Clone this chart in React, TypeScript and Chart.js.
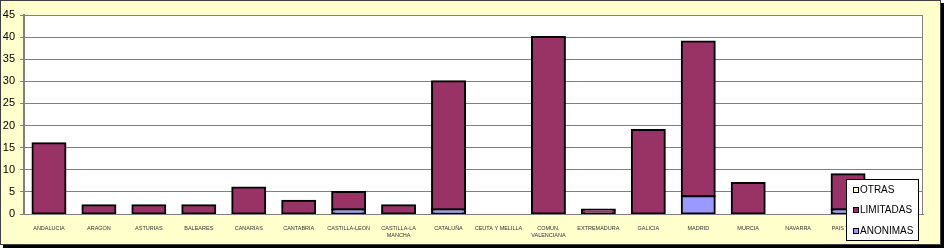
import React, { useEffect, useRef } from "react";
import { Chart, registerables } from "chart.js";

Chart.register(...registerables);

const categories: (string | string[])[] = [
  "ANDALUCIA",
  "ARAGON",
  "ASTURIAS",
  "BALEARES",
  "CANARIAS",
  "CANTABRIA",
  "CASTILLA-LEON",
  ["CASTILLA-LA", "MANCHA"],
  "CATALUÑA",
  "CEUTA Y MELILLA",
  ["COMUN.", "VALENCIANA"],
  "EXTREMADURA",
  "GALICIA",
  "MADRID",
  "MURCIA",
  "NAVARRA",
  "PAIS VASCO",
  "RIOJA",
];

const anonimas = [0, 0, 0, 0, 0, 0, 1, 0, 1, 0, 0, 0, 0, 4, 0, 0, 1, 0];
const limitadas = [16, 2, 2, 2, 6, 3, 4, 2, 29, 0, 40, 1, 19, 35, 7, 0, 8, 0];
const otras = [0, 0, 0, 0, 0, 0, 0, 0, 0, 0, 0, 0, 0, 0, 0, 0, 0, 0];

const yTicks = [0, 5, 10, 15, 20, 25, 30, 35, 40, 45];

const FONT = "Arial, 'Liberation Sans', sans-serif";

const plotBgPlugin = {
  id: "plotBg",
  beforeDraw(chart: any) {
    const { ctx, chartArea } = chart;
    ctx.save();
    ctx.fillStyle = "#ffffff";
    ctx.fillRect(chartArea.left, chartArea.top, chartArea.right - chartArea.left, chartArea.bottom - chartArea.top);
    ctx.restore();
  },
  afterDatasetsDraw(chart: any) {
    const { ctx, chartArea } = chart;
    ctx.save();
    ctx.strokeStyle = "#808080";
    ctx.lineWidth = 1;
    ctx.beginPath();
    ctx.moveTo(Math.round(chartArea.right) - 0.5, chartArea.top);
    ctx.lineTo(Math.round(chartArea.right) - 0.5, chartArea.bottom);
    ctx.stroke();
    ctx.restore();
  },
};

const legendPlugin = {
  id: "boxLegend",
  afterDraw(chart: any) {
    const { ctx } = chart;
    const x = 846.5;
    const y = 179.5;
    const w = 72;
    const h = 61;
    ctx.save();
    ctx.fillStyle = "#ffffff";
    ctx.fillRect(x, y, w, h);
    ctx.strokeStyle = "#000000";
    ctx.lineWidth = 1;
    ctx.strokeRect(x, y, w, h);
    const items = [...chart.data.datasets].reverse();
    ctx.font = `10px ${FONT}`;
    ctx.textBaseline = "middle";
    ctx.textAlign = "left";
    items.forEach((ds: any, i: number) => {
      const cy = 189.5 + i * 20.5;
      ctx.fillStyle = ds.backgroundColor;
      ctx.fillRect(853, Math.round(cy) - 3, 6, 6);
      ctx.strokeStyle = "#000";
      ctx.strokeRect(853.5, Math.round(cy) - 2.5, 5, 5);
      ctx.fillStyle = "#000";
      ctx.fillText(ds.label, 860, cy + 0.5);
    });
    ctx.restore();
  },
};

const nz = (arr: number[]) => arr.map((v) => (v === 0 ? null : v));

export default function App() {
  const ref = useRef<HTMLCanvasElement>(null);

  useEffect(() => {
    if (!ref.current) return;
    const chart = new Chart(ref.current, {
      type: "bar",
      data: {
        labels: categories,
        datasets: [
          { label: "ANONIMAS", data: nz(anonimas), backgroundColor: "#9999FF" },
          { label: "LIMITADAS", data: nz(limitadas), backgroundColor: "#993366" },
          { label: "OTRAS", data: nz(otras), backgroundColor: "#FFFFCC" },
        ].map((d) => ({
          ...d,
          borderColor: "#000000",
          borderWidth: 2,
          borderSkipped: false,
          inflateAmount: 1,
          categoryPercentage: 1,
          barPercentage: 0.66,
        })),
      },
      options: {
        responsive: false,
        animation: false,
        devicePixelRatio: 1,
        layout: { padding: { top: 15, right: 21, bottom: 0, left: 0 } },
        plugins: {
          legend: { display: false },
          tooltip: { enabled: false },
        },
        scales: {
          x: {
            stacked: true,
            grid: { display: false },
            border: { display: true, color: "#808080", width: 1 },
            ticks: {
              autoSkip: false,
              maxRotation: 0,
              minRotation: 0,
              padding: 3,
              color: "#333333",
              font: { family: FONT, size: 5.5, lineHeight: 1.3 },
            },
            afterFit(scale: any) {
              scale.height = 34;
            },
          },
          y: {
            stacked: true,
            min: 0,
            max: 45,
            afterBuildTicks(scale: any) {
              scale.ticks = yTicks.map((v) => ({ value: v }));
            },
            grid: {
              color: "#808080",
              lineWidth: 1,
              drawTicks: true,
              tickLength: 4,
              tickColor: "#808080",
            },
            border: { display: true, color: "#808080", width: 2 },
            ticks: {
              padding: 5,
              color: "#000000",
              font: { family: FONT, size: 11 },
            },
            afterFit(scale: any) {
              scale.width = 24;
            },
          },
        },
      },
      plugins: [plotBgPlugin, legendPlugin],
    });
    return () => chart.destroy();
  }, []);

  return (
    <div style={{ position: "fixed", left: 0, top: 0, width: 944, height: 248, background: "#ffffff" }}>
      <div
        style={{
          position: "absolute",
          left: 0,
          top: 0,
          width: 941,
          height: 245,
          boxSizing: "border-box",
          border: "1px solid #404040",
          boxShadow: "3px 3px 0 #000000",
          background: "#FFFFCC",
        }}
      />
      <canvas ref={ref} width={944} height={248} style={{ position: "absolute", left: 0, top: 0, width: 944, height: 248 }} />
    </div>
  );
}
